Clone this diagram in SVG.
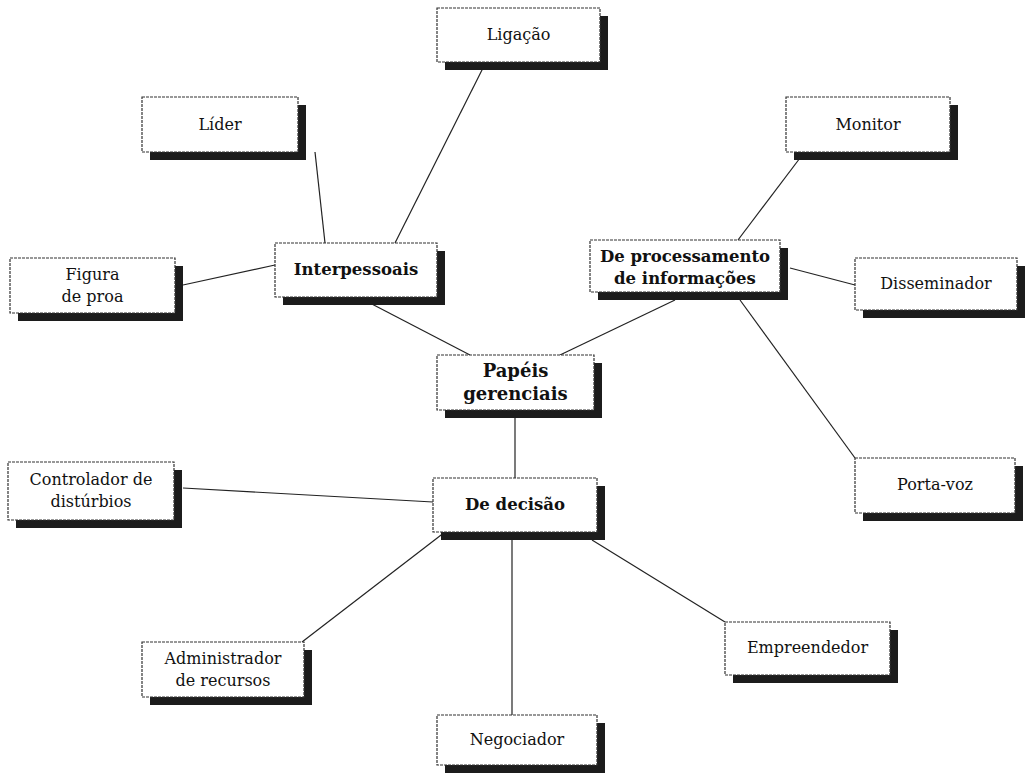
<svg xmlns="http://www.w3.org/2000/svg" width="1025" height="775" viewBox="0 0 1025 775">
<defs>
<style>
.sh{fill:#1c1c1c}
.bx{fill:#fff;stroke:#333;stroke-width:1.2;stroke-dasharray:3 1}
.t{font-family:"DejaVu Serif","Liberation Serif",serif;font-size:16px;fill:#111;text-anchor:middle}
.b{font-family:"DejaVu Serif","Liberation Serif",serif;font-size:16.5px;font-weight:bold;fill:#111;text-anchor:middle}
.c{font-size:18px}
.ln{stroke:#222;stroke-width:1.2;fill:none}
</style>
</defs>
<rect width="1025" height="775" fill="#fff"/>
<g id="connectors">
<line class="ln" x1="315" y1="152" x2="325" y2="243"/>
<line class="ln" x1="483" y1="68" x2="395" y2="243"/>
<line class="ln" x1="183" y1="285" x2="275" y2="265"/>
<line class="ln" x1="368" y1="302" x2="470" y2="355"/>
<line class="ln" x1="675" y1="300" x2="560" y2="355"/>
<line class="ln" x1="800" y1="158" x2="738" y2="240"/>
<line class="ln" x1="790" y1="268" x2="855" y2="285"/>
<line class="ln" x1="740" y1="300" x2="855" y2="458"/>
<line class="ln" x1="515" y1="416" x2="515" y2="478"/>
<line class="ln" x1="183" y1="488" x2="433" y2="502"/>
<line class="ln" x1="445" y1="532" x2="302" y2="642"/>
<line class="ln" x1="512" y1="540" x2="512" y2="715"/>
<line class="ln" x1="592" y1="540" x2="725" y2="622"/>
</g>
<g id="ligacao"><rect class="sh" x="445" y="16" width="163" height="54"/><rect class="bx" x="437" y="8" width="163" height="54"/><text class="t" x="518.5" y="40">Ligação</text></g>
<g id="lider"><rect class="sh" x="150" y="105" width="156" height="55"/><rect class="bx" x="142" y="97" width="156" height="55"/><text class="t" x="220" y="130">Líder</text></g>
<g id="monitor"><rect class="sh" x="794" y="105" width="164" height="55"/><rect class="bx" x="786" y="97" width="164" height="55"/><text class="t" x="868" y="130">Monitor</text></g>
<g id="figura"><rect class="sh" x="18" y="266" width="165" height="55"/><rect class="bx" x="10" y="258" width="165" height="55"/><text class="t" x="92.5" y="280">Figura</text><text class="t" x="92.5" y="302">de proa</text></g>
<g id="interpessoais"><rect class="sh" x="283" y="251" width="162" height="54"/><rect class="bx" x="275" y="243" width="162" height="54"/><text class="b" x="356" y="275">Interpessoais</text></g>
<g id="processamento"><rect class="sh" x="598" y="248" width="190" height="52"/><rect class="bx" x="590" y="240" width="190" height="52"/><text class="b" x="685" y="262">De processamento</text><text class="b" x="685" y="284">de informações</text></g>
<g id="disseminador"><rect class="sh" x="863" y="266" width="162" height="52"/><rect class="bx" x="855" y="258" width="162" height="52"/><text class="t" x="936" y="289">Disseminador</text></g>
<g id="papeis"><rect class="sh" x="445" y="363" width="157" height="55"/><rect class="bx" x="437" y="355" width="157" height="55"/><text class="b c" x="515.5" y="377">Papéis</text><text class="b c" x="515.5" y="400">gerenciais</text></g>
<g id="controlador"><rect class="sh" x="16" y="470" width="166" height="58"/><rect class="bx" x="8" y="462" width="166" height="58"/><text class="t" x="91" y="485">Controlador de</text><text class="t" x="91" y="507">distúrbios</text></g>
<g id="decisao"><rect class="sh" x="441" y="486" width="164" height="54"/><rect class="bx" x="433" y="478" width="164" height="54"/><text class="b" x="515" y="510">De decisão</text></g>
<g id="portavoz"><rect class="sh" x="863" y="466" width="160" height="55"/><rect class="bx" x="855" y="458" width="160" height="55"/><text class="t" x="935" y="490">Porta-voz</text></g>
<g id="administrador"><rect class="sh" x="150" y="650" width="162" height="55"/><rect class="bx" x="142" y="642" width="162" height="55"/><text class="t" x="223" y="664">Administrador</text><text class="t" x="223" y="686">de recursos</text></g>
<g id="empreendedor"><rect class="sh" x="733" y="630" width="165" height="53"/><rect class="bx" x="725" y="622" width="165" height="53"/><text class="t" x="807.5" y="653">Empreendedor</text></g>
<g id="negociador"><rect class="sh" x="445" y="723" width="160" height="50"/><rect class="bx" x="437" y="715" width="160" height="50"/><text class="t" x="517" y="745">Negociador</text></g>
</svg>
